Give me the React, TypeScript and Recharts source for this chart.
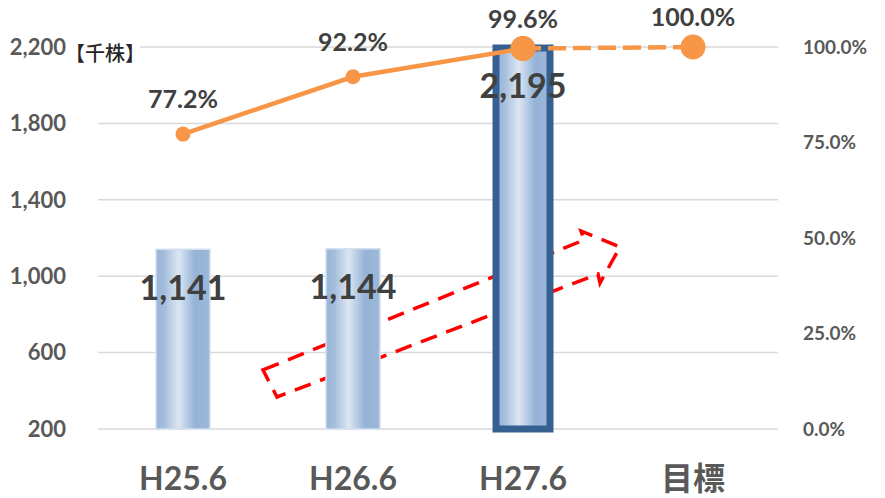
import React from 'react';
import { ComposedChart, Bar, Line, XAxis, YAxis, CartesianGrid, LabelList, Cell, Customized } from 'recharts';

const categories = ['H25.6', 'H26.6', 'H27.6', '目標'];
const shares = [1141, 1144, 2195, null];
const ratioActual = [77.2, 92.2, 99.6, null];
const ratioTarget = [null, null, 99.6, 100.0];
const leftTicks = [200, 600, 1000, 1400, 1800, 2200];
const rightTicks = [0, 25, 50, 75, 100];
const unitLabel = '【千株】';

const data = categories.map((c, i) => ({
  cat: c,
  shares: shares[i],
  actual: ratioActual[i],
  target: ratioTarget[i],
}));

const FONT = "Lato, 'Noto Sans CJK JP', sans-serif";
const ORANGE = '#F79646';

const arrowPts = [
  [263, 370], [584, 240], [581, 231], [620, 247], [600, 283], [598, 274], [277, 397],
];

const dotRenderer = (props: any) => {
  const { cx, cy, index, value } = props;
  if (cx == null || cy == null || value == null) return <g key={`d${index}`} />;
  const r = index >= 2 ? 12.5 : 7.5;
  return <circle key={`d${index}`} cx={cx} cy={cy} r={r} fill={ORANGE} stroke="none" />;
};

const pctLabel = (skipIdx: number[]) => (props: any) => {
  const { x, y, value, index } = props;
  if (value == null || skipIdx.includes(index)) return null;
  const off = index >= 2 ? 31 : 36;
  return (
    <text x={x} y={y - off} textAnchor="middle" dominantBaseline="central" fill="#404040" fontSize={25} fontWeight="bold" fontFamily={FONT}>
      {Number(value).toFixed(1)}%
    </text>
  );
};

const barLabel = (props: any) => {
  const { x, y, width, value } = props;
  if (value == null) return null;
  return (
    <text x={x + width / 2} y={y + 37} textAnchor="middle" dominantBaseline="central" fill="#404040" fontSize={34} fontWeight="bold" fontFamily={FONT}>
      {Number(value).toLocaleString('en-US')}
    </text>
  );
};

const Annotations = () => (
  <g>
    <rect x={72} y={42} width={68} height={24} fill="#FFFFFF" />
    <text
      x={65}
      y={61}
      fill="#262626"
      style={{ fontSize: '20px', fontFamily: "'Noto Sans CJK JP', sans-serif", fontWeight: 500 }}
    >
      {unitLabel}
    </text>
  </g>
);

const Arrow = () => (
  <polygon
    points={arrowPts.map((p) => p.join(',')).join(' ')}
    fill="none"
    stroke="#FF0000"
    strokeWidth={3.5}
    strokeDasharray="17 10"
  />
);

export default function App() {
  return (
    <div style={{ position: 'absolute', left: 0, top: 0, width: 885, height: 498, background: '#fff' }}>
      <ComposedChart width={885} height={498} data={data} margin={{ top: 47, right: 0, bottom: 0, left: 0 }}>
        <defs>
          <linearGradient id="barGrad" x1="0" y1="0" x2="1" y2="0">
            <stop offset="0%" stopColor="#98B5D8" />
            <stop offset="15%" stopColor="#A3BDDC" />
            <stop offset="42%" stopColor="#DCE6F2" />
            <stop offset="72%" stopColor="#95B3D7" />
            <stop offset="100%" stopColor="#9CB8DA" />
          </linearGradient>
        </defs>
        <CartesianGrid horizontal vertical={false} stroke="#D9D9D9" strokeWidth={1.5} yAxisId="left" />
        <Customized component={Annotations} />
        <XAxis
          dataKey="cat"
          height={69}
          tickSize={0}
          tickMargin={38}
          axisLine={false}
          tickLine={false}
          tick={{ fill: '#595959', fontSize: 32, fontWeight: 'bold', fontFamily: FONT }}
        />
        <YAxis
          yAxisId="left"
          width={98}
          domain={[200, 2200]}
          ticks={leftTicks}
          tickFormatter={(v: number) => v.toLocaleString('en-US')}
          tickSize={0}
          tickMargin={32}
          axisLine={false}
          tickLine={false}
          tick={{ fill: '#595959', fontSize: 22, fontWeight: 'bold', fontFamily: FONT }}
        />
        <YAxis
          yAxisId="right"
          orientation="right"
          width={107}
          domain={[0, 100]}
          ticks={rightTicks}
          tickFormatter={(v: number) => `${v.toFixed(1)}%`}
          tickSize={0}
          tickMargin={25}
          axisLine={false}
          tickLine={false}
          tick={{ fill: '#595959', fontSize: 19, fontWeight: 'bold', fontFamily: FONT, textAnchor: 'start' }}
        />
        <Bar yAxisId="left" dataKey="shares" barSize={54} isAnimationActive={false}>
          {data.map((d, i) => (
            <Cell
              key={`c${i}`}
              fill="url(#barGrad)"
              stroke={i === 2 ? '#376092' : '#D5E1F0'}
              strokeWidth={i === 2 ? 7 : 1.5}
            />
          ))}
          <LabelList dataKey="shares" content={barLabel} />
        </Bar>
        <Customized component={Arrow} />
        <Line
          yAxisId="right"
          dataKey="target"
          stroke={ORANGE}
          strokeWidth={4.5}
          strokeDasharray="18 7"
          dot={dotRenderer}
          activeDot={false}
          isAnimationActive={false}
          connectNulls={false}
        >
          <LabelList dataKey="target" content={pctLabel([2])} />
        </Line>
        <Line
          yAxisId="right"
          dataKey="actual"
          stroke={ORANGE}
          strokeWidth={4.5}
          dot={dotRenderer}
          activeDot={false}
          isAnimationActive={false}
          connectNulls={false}
        >
          <LabelList dataKey="actual" content={pctLabel([])} />
        </Line>
      </ComposedChart>
    </div>
  );
}
